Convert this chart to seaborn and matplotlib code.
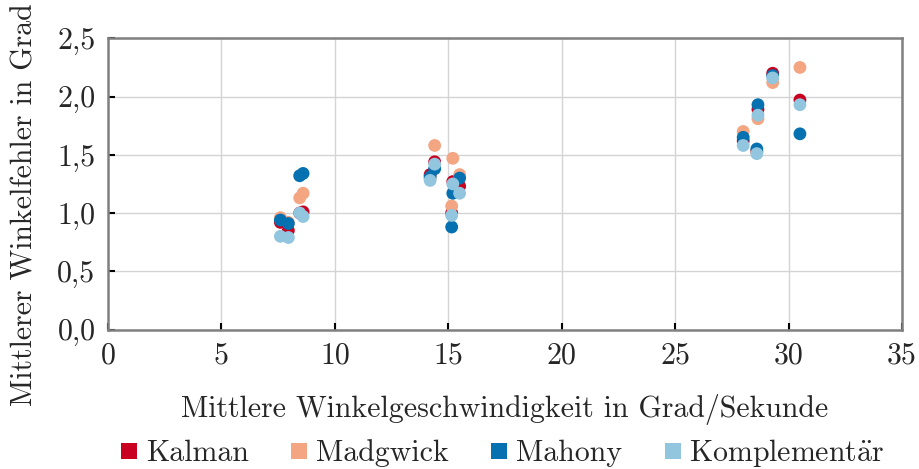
import numpy as np
import pandas as pd
import matplotlib
matplotlib.use("Agg")
import matplotlib.pyplot as plt
from matplotlib.lines import Line2D
from matplotlib.ticker import FuncFormatter
import seaborn as sns

# Mean angular velocity of each trial (deg/s)
speed = [7.6, 7.95, 8.45, 8.6,
         14.2, 14.4, 15.15, 15.2, 15.5,
         28.0, 28.6, 28.65, 29.3, 30.5]

# Mean angular error (deg) of each filter per trial
kalman       = [0.92, 0.85, 1.00, 1.01, 1.33, 1.44, 1.00, 1.27, 1.23, 1.62, 1.53, 1.89, 2.20, 1.97]
madgwick     = [0.96, 0.92, 1.13, 1.17, 1.30, 1.58, 1.06, 1.47, 1.33, 1.70, 1.52, 1.81, 2.12, 2.25]
mahony       = [0.94, 0.91, 1.32, 1.34, 1.31, 1.38, 0.88, 1.17, 1.30, 1.65, 1.55, 1.93, 2.18, 1.68]
komplementar = [0.80, 0.79, 1.00, 0.97, 1.28, 1.42, 0.98, 1.25, 1.17, 1.58, 1.51, 1.84, 2.16, 1.93]

filters = ["Kalman", "Madgwick", "Mahony", "Komplementär"]
legend_labels = ["Kalman", "Madgwick", "Mahony", r"Komplement$\mathrm{\ddot{a}}$r"]
colors = ["#ca0020", "#f4a582", "#0571b0", "#92c5de"]

x_ticks = [0, 5, 10, 15, 20, 25, 30, 35]
y_ticks = [0.0, 0.5, 1.0, 1.5, 2.0, 2.5]

df = pd.DataFrame({
    "speed": speed * 4,
    "error": kalman + madgwick + mahony + komplementar,
    "filter": np.repeat(filters, len(speed)),
})

sns.set_theme(style="whitegrid")
plt.rcParams["font.family"] = ["cmr10", "DejaVu Serif"]
plt.rcParams["mathtext.fontset"] = "cm"
plt.rcParams["axes.formatter.use_mathtext"] = True

FS = 21.5

fig = plt.figure(figsize=(9.19, 4.69), dpi=100)
ax = fig.add_axes([0.1175, 0.2974, 0.864, 0.6209])

sns.scatterplot(data=df, x="speed", y="error", hue="filter",
                hue_order=filters, palette=colors, s=85, linewidth=0,
                alpha=1, legend=False, ax=ax, zorder=3)

ax.set_xlim(0, 35)
ax.set_ylim(0, 2.5)
ax.set_xticks(x_ticks)
ax.set_yticks(y_ticks)
ax.yaxis.set_major_formatter(FuncFormatter(lambda v, p: f"{v:.1f}".replace(".", ",")))
ax.xaxis.set_major_formatter(FuncFormatter(lambda v, p: f"{v:.0f}"))

ax.grid(True, color="#d4d4d4", linewidth=1.0)
for sp in ax.spines.values():
    sp.set_color("#808080")
    sp.set_linewidth(1.8)
ax.tick_params(axis="both", which="major", direction="in", length=5, width=1.5,
               color="black", labelsize=FS, pad=9,
               bottom=True, left=True, top=False, right=False)

ax.set_xlabel("Mittlere Winkelgeschwindigkeit in Grad/Sekunde", fontsize=FS, labelpad=18)
ax.set_ylabel("Mittlerer Winkelfehler in Grad", fontsize=FS)
ax.yaxis.set_label_coords(-0.088, 0.43)

handles = [Line2D([], [], marker="s", linestyle="none", markersize=11,
                  markerfacecolor=c, markeredgewidth=0) for c in colors]
fig.legend(handles, legend_labels, loc="lower center", bbox_to_anchor=(0.545, -0.058),
           ncol=4, frameon=False, fontsize=FS, handletextpad=0.15,
           columnspacing=1.3, handlelength=0.8)

fig.savefig("out.png", dpi=100)
